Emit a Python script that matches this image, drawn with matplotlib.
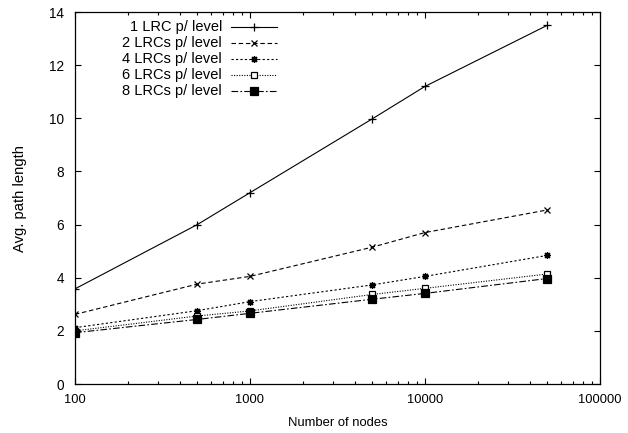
import matplotlib
matplotlib.use("Agg")
import matplotlib.pyplot as plt
from matplotlib.lines import Line2D
from matplotlib.ticker import LogLocator, FixedLocator, NullFormatter

plt.rcParams['font.family'] = ['Liberation Sans', 'DejaVu Sans']

nodes = [100, 500, 1000, 5000, 10000, 50000]
lrc1 = [3.58, 6.0, 7.2, 9.98, 11.2, 13.5]
lrc2 = [2.62, 3.76, 4.05, 5.15, 5.7, 6.55]
lrc4 = [2.12, 2.76, 3.1, 3.73, 4.05, 4.84]
lrc6 = [2.0, 2.56, 2.75, 3.37, 3.6, 4.14]
lrc8 = [1.93, 2.43, 2.66, 3.19, 3.41, 3.97]
labels = ["1 LRC p/ level", "2 LRCs p/ level", "4 LRCs p/ level",
          "6 LRCs p/ level", "8 LRCs p/ level"]
x_ticks = [100, 1000, 10000, 100000]
y_ticks = [0, 2, 4, 6, 8, 10, 12, 14]

fig = plt.figure(figsize=(6.28, 4.33), dpi=100)
ax = fig.add_axes([75/628, 49/433, 525/628, 372/433])

lw = 0.8
styles = [
    dict(ls='-', marker='+', ms=5.5, mew=0.9, color='black'),
    dict(ls=(0, (4, 2.5)), marker='x', ms=4.5, mew=0.9, color='black'),
    dict(ls=(0, (2, 2)), marker=(8, 2, 0), ms=5, mew=0.9, color='black'),
    dict(ls=(0, (1, 1.3)), marker='s', ms=5, mew=0.9, mfc='white', color='black'),
    dict(ls=(0, (6, 2, 1.5, 2)), marker='s', ms=5.5, mew=0.9, color='black'),
]
series = [lrc1, lrc2, lrc4, lrc6, lrc8]
for ys, st in zip(series, styles):
    ax.plot(nodes, ys, lw=lw, **st)

ax.set_xscale('log')
ax.set_xlim(100, 100000)
ax.set_ylim(0, 14)
ax.xaxis.set_major_locator(FixedLocator(x_ticks))
ax.set_xticklabels([str(t) for t in x_ticks])
ax.xaxis.set_minor_locator(LogLocator(base=10, subs=range(2, 10)))
ax.xaxis.set_minor_formatter(NullFormatter())
ax.set_yticks(y_ticks)
ax.tick_params(which='both', direction='in', top=True, right=True, width=0.8)
ax.tick_params(which='major', length=4.5)
ax.tick_params(which='minor', length=2.5)
ax.tick_params(axis='x', labelsize=9.3, pad=7)
ax.tick_params(axis='y', labelsize=9.8, pad=8)
for s in ax.spines.values():
    s.set_linewidth(0.9)

ax.set_xlabel("Number of nodes", fontsize=9.4, labelpad=8)
ax.set_ylabel("Avg. path length", fontsize=10.6, labelpad=16)

# gnuplot-style key: right-aligned text followed by the line sample
key_text_x = 222
key_x0, key_x1 = 231, 277
row_y0, row_dy = 27, 16
for i, (lab, st) in enumerate(zip(labels, styles)):
    ypx = row_y0 + i * row_dy
    yf = 1 - ypx / 433
    fig.text(key_text_x / 628, yf, lab, ha='right', va='center', fontsize=10.5)
    fig.add_artist(Line2D([key_x0 / 628, key_x1 / 628], [yf, yf], lw=lw,
                          ls=st['ls'], color='black'))
    mst = {k: v for k, v in st.items() if k != 'ls'}
    fig.add_artist(Line2D([(key_x0 + key_x1) / 2 / 628], [yf], ls='none', **mst))

fig.savefig("out.png", dpi=100)
